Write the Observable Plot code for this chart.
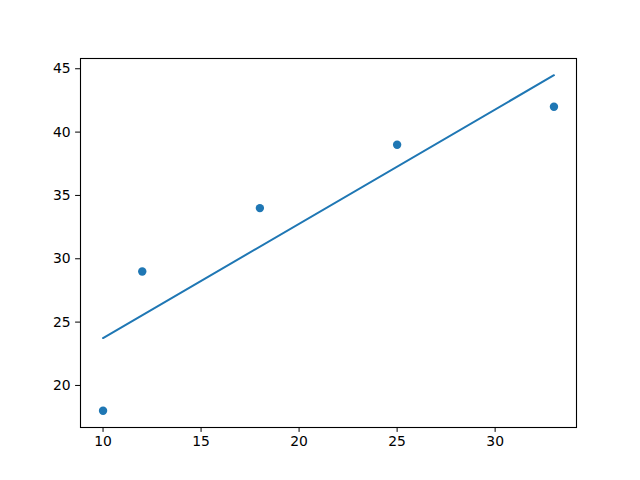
<!DOCTYPE html>
<html>
<head>
<meta charset="utf-8">
<script src="https://cdn.jsdelivr.net/npm/d3@7"></script>
<script src="https://cdn.jsdelivr.net/npm/@observablehq/plot@0.6"></script>
<style>
  html, body { margin: 0; padding: 0; background: #fff; }
  svg { display: block; }
</style>
</head>
<body>
<div id="chart"></div>
<script>
const xs = [10, 12, 18, 25, 33];
const ys = [18, 29, 34, 39, 42];
const lineX = [10, 33];
const lineY = [23.74, 44.49];
const xTicks = [10, 15, 20, 25, 30];
const yTicks = [20, 25, 30, 35, 40, 45];

const points = xs.map((x, i) => ({x, y: ys[i]}));
const line = lineX.map((x, i) => ({x, y: lineY[i]}));

const chart = Plot.plot({
  width: 640,
  height: 480,
  marginLeft: 80,
  marginRight: 64,
  marginTop: 58,
  marginBottom: 53,
  style: {fontFamily: "DejaVu Sans", fontSize: "13.9px", color: "black", background: "white"},
  x: {domain: [8.85, 34.15], ticks: xTicks, tickSize: 4.9, tickPadding: 4, label: null, tickFormat: d => String(d)},
  y: {domain: [16.68, 45.81], ticks: yTicks, tickSize: 4.9, tickPadding: 5, label: null, tickFormat: d => String(d)},
  marks: [
    Plot.frame({stroke: "black", strokeWidth: 1.1}),
    Plot.line(line, {x: "x", y: "y", stroke: "#1f77b4", strokeWidth: 2}),
    Plot.dot(points, {x: "x", y: "y", r: 4.2, fill: "#1f77b4", stroke: "none"})
  ]
});
document.getElementById("chart").appendChild(chart);
</script>
</body>
</html>
